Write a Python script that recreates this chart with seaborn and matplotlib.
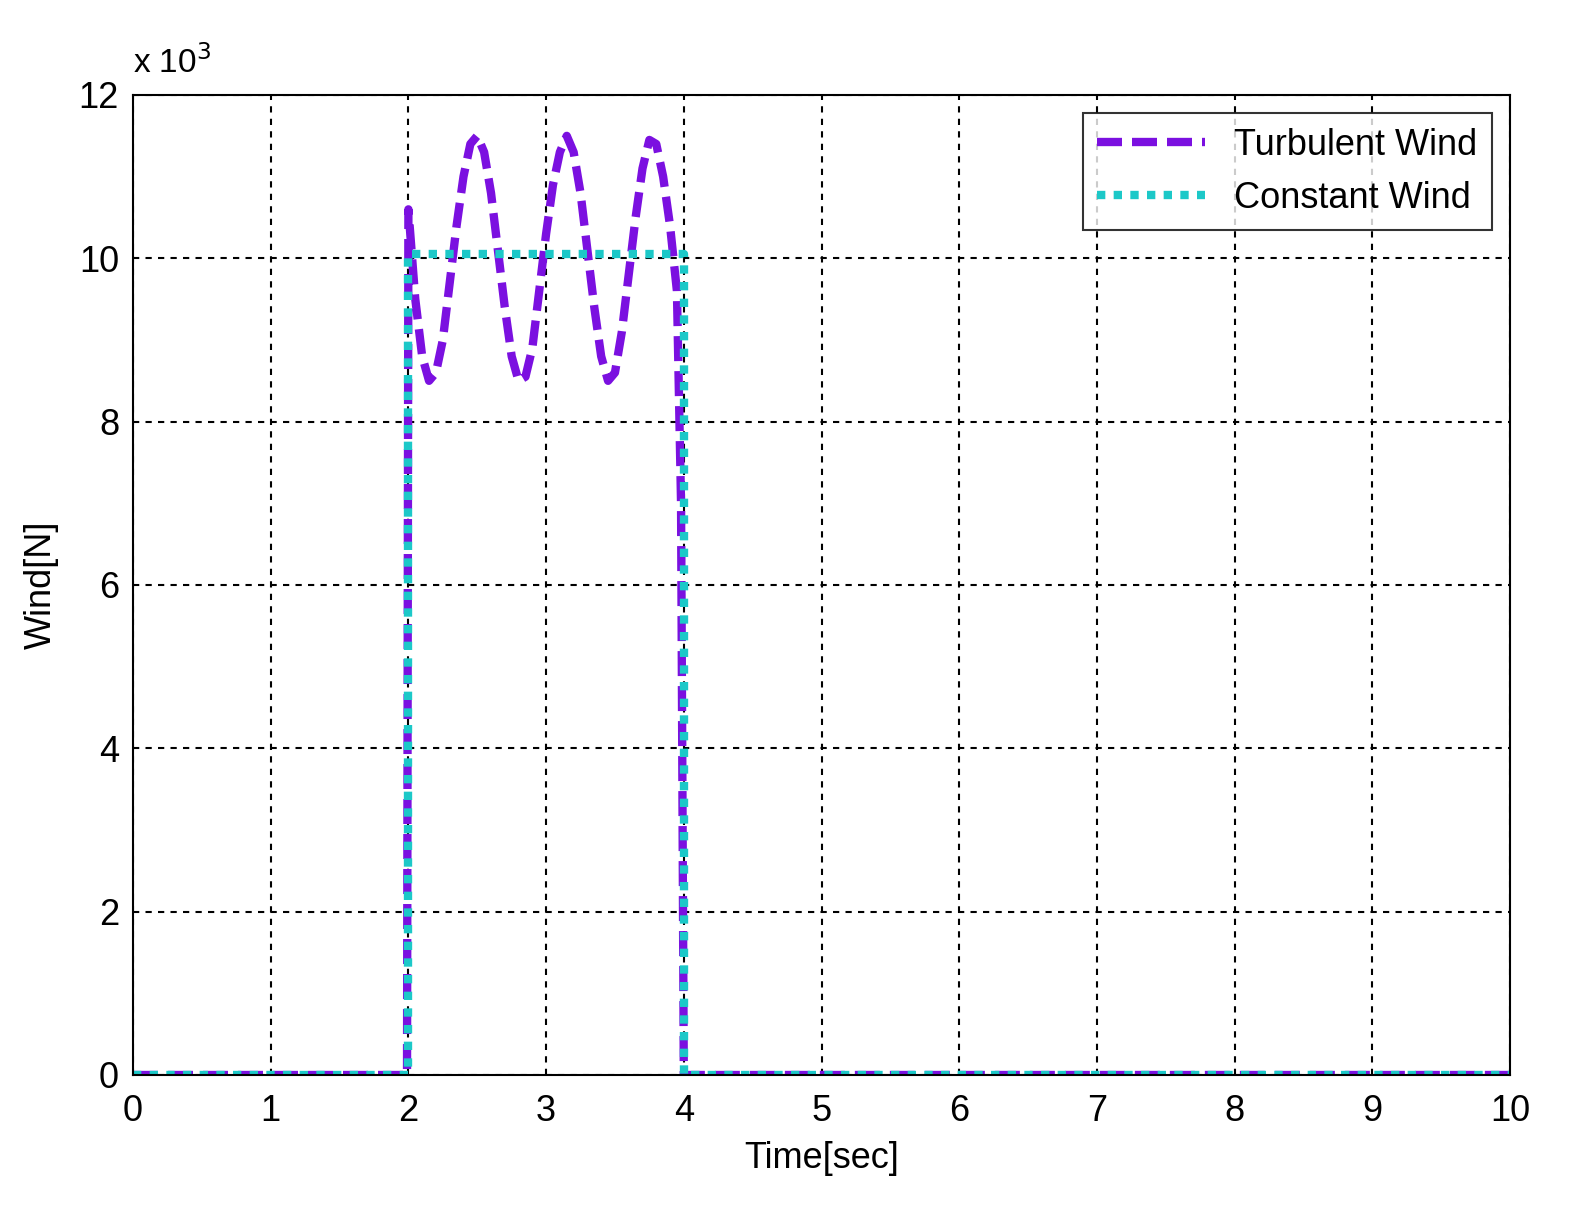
import matplotlib
matplotlib.use("Agg")
import matplotlib.pyplot as plt
import seaborn as sns
import pandas as pd

sns.set_style("white")
plt.rcParams['font.family'] = ['Liberation Sans', 'DejaVu Sans']
plt.rcParams['text.color'] = 'black'
plt.rcParams['axes.labelcolor'] = 'black'
plt.rcParams['xtick.color'] = 'black'
plt.rcParams['ytick.color'] = 'black'

turb_t = [0, 1.99, 2.0, 2.05, 2.1, 2.15, 2.2, 2.25, 2.3, 2.35, 2.4, 2.45, 2.5, 2.55, 2.6, 2.65, 2.7, 2.75, 2.8,
          2.85, 2.9, 2.95, 3.0, 3.05, 3.1, 3.15, 3.2, 3.25, 3.3, 3.35, 3.4, 3.45, 3.5, 3.55, 3.6, 3.65,
          3.7, 3.75, 3.8, 3.85, 3.9, 3.95, 3.98, 4.0, 10]
turb_v = [0, 0, 10.6, 9.5, 8.8, 8.5, 8.6, 9.0, 9.7, 10.4, 11.0, 11.4, 11.5, 11.3, 10.8, 10.1, 9.4, 8.8, 8.5,
          8.55, 8.9, 9.6, 10.3, 10.9, 11.3, 11.5, 11.3, 10.8, 10.1, 9.4, 8.8, 8.5, 8.6, 9.1, 9.8, 10.5,
          11.1, 11.45, 11.4, 11.0, 10.4, 9.6, 7.0, 0, 0]
const_t = [0, 2.0, 2.0, 4.0, 4.0, 10]
const_v = [0, 0, 10.05, 10.05, 0, 0]

fig = plt.figure(figsize=(15.69, 12.18), dpi=100)
ax = fig.add_axes([133/1569, 1-1075/1218, (1510-133)/1569, (1075-95)/1218])

df1 = pd.DataFrame({"t": turb_t, "v": turb_v})
df2 = pd.DataFrame({"t": const_t, "v": const_v})
sns.lineplot(data=df1, x="t", y="v", ax=ax, sort=False, estimator=None, color="#7B10E0", lw=6,
             label="Turbulent Wind")
ax.lines[-1].set_dashes([3, 1.2])
sns.lineplot(data=df2, x="t", y="v", ax=ax, sort=False, estimator=None, color="#1CC8C8", lw=6,
             label="Constant Wind")
ax.lines[-1].set_dashes([1, 1])

ax.set_xlim(0, 10)
ax.set_ylim(0, 12)
ax.set_xticks(range(0, 11))
ax.set_yticks(range(0, 13, 2))
ax.grid(True, color="black", linestyle=(0, (3, 3)), lw=1.5)
for s in ax.spines.values():
    s.set_color("black"); s.set_linewidth(1.5)
ax.tick_params(labelsize=26, direction="in", length=6, color="black")
ax.tick_params(axis="x", pad=14)
ax.tick_params(axis="y", pad=10)
ax.set_xlabel("Time[sec]", fontsize=26, labelpad=8)
ax.set_ylabel("Wind[N]", fontsize=26, labelpad=14)
ax.text(0, 1.015, r"x 10$^3$", transform=ax.transAxes, fontsize=24, ha="left", va="bottom")
leg = ax.legend(loc="upper right", fontsize=26, frameon=True, fancybox=False,
                edgecolor="black", handlelength=3)
leg.get_frame().set_linewidth(1.5)
fig.savefig("out.png", dpi=100)
